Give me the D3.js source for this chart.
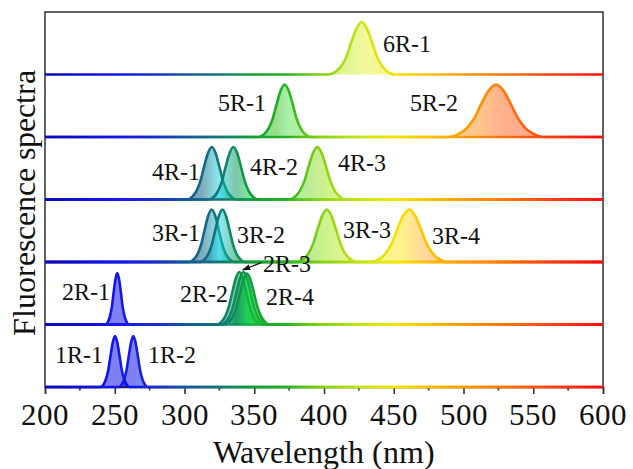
<!DOCTYPE html>
<html>
<head>
<meta charset="utf-8">
<script src="https://cdn.jsdelivr.net/npm/d3@7"></script>
<style>
  @font-face { font-family: "ChartSerif"; src: local("Liberation Serif"), local("LiberationSerif"), local("LiberationSerif-Regular"); }
  body { margin: 0; background: #fff; }
  svg text { font-family: "ChartSerif", "Liberation Serif", Times, serif; }
</style>
</head>
<body>
<script>
// panels, bottom to top
var panels = ["1R", "2R", "3R", "4R", "5R", "6R"];
var xTicks = [200, 250, 300, 350, 400, 450, 500, 550, 600];
var xMinor = [225, 275, 325, 375, 425, 475, 525, 575];

// spectra: [wavelength (nm), intensity]
var s1R_1 = [[200,0],[240.0,0],[242.2,.06],[243.8,.16],[245.4,.33],[247.0,.60],[248.6,.85],[250.2,.97],[251.8,.85],[253.4,.60],[255.0,.33],[256.6,.16],[258.2,.06],[260.4,0],[600,0]];
var s1R_2 = [[200,0],[253.1,0],[255.3,.06],[256.9,.16],[258.5,.33],[260.1,.60],[261.7,.85],[263.3,.97],[264.9,.85],[266.5,.60],[268.1,.33],[269.7,.16],[271.3,.06],[273.5,0],[600,0]];
var s2R_1 = [[200,0],[243.5,0],[245.3,.06],[246.6,.16],[247.9,.33],[249.2,.61],[250.5,.86],[251.8,.98],[253.1,.86],[254.4,.61],[255.7,.33],[257.0,.16],[258.3,.06],[260.1,0],[600,0]];
var s2R_2 = [[200,0],[323.3,0],[326.8,.06],[329.3,.16],[331.8,.34],[334.3,.62],[336.8,.88],[339.3,1],[341.8,.88],[344.3,.62],[346.8,.34],[349.3,.16],[351.8,.06],[355.3,0],[600,0]];
var s2R_3 = [[200,0],[326.3,0],[329.8,.06],[332.3,.16],[334.8,.34],[337.3,.62],[339.8,.88],[342.3,1],[344.8,.88],[347.3,.62],[349.8,.34],[352.3,.16],[354.8,.06],[358.3,0],[600,0]];
var s2R_4 = [[200,0],[328.8,0],[332.3,.06],[334.8,.16],[337.3,.33],[339.8,.60],[342.3,.85],[344.8,.97],[347.3,.85],[349.8,.60],[352.3,.33],[354.8,.16],[357.3,.06],[360.8,0],[600,0]];
var s3R_1 = [[200,0],[303.5,0],[307.0,.06],[309.5,.16],[312.0,.34],[314.5,.62],[317.0,.88],[319.5,1],[322.0,.88],[324.5,.62],[327.0,.34],[329.5,.16],[332.0,.06],[335.5,0],[600,0]];
var s3R_2 = [[200,0],[311.2,0],[314.7,.06],[317.2,.16],[319.7,.34],[322.2,.62],[324.7,.88],[327.2,1],[329.7,.88],[332.2,.62],[334.7,.34],[337.2,.16],[339.7,.06],[343.2,0],[600,0]];
var s3R_3 = [[200,0],[380.9,0],[385.5,.06],[388.8,.16],[392.1,.34],[395.4,.62],[398.7,.88],[402.0,1],[405.3,.88],[408.6,.62],[411.9,.34],[415.2,.16],[418.5,.06],[423.1,0],[600,0]];
var s3R_4 = [[200,0],[433.8,0],[439.8,.06],[444.0,.16],[448.3,.34],[452.5,.62],[456.8,.88],[461.0,1],[465.3,.88],[469.5,.62],[473.8,.34],[478.0,.16],[482.3,.06],[488.2,0],[600,0]];
var s4R_1 = [[200,0],[301.9,0],[305.8,.06],[308.5,.16],[311.3,.34],[314.0,.62],[316.8,.88],[319.5,1],[322.3,.88],[325.0,.62],[327.8,.34],[330.5,.16],[333.3,.06],[337.1,0],[600,0]];
var s4R_2 = [[200,0],[317.4,0],[321.3,.06],[324.0,.16],[326.8,.34],[329.5,.62],[332.3,.88],[335.0,1],[337.8,.88],[340.5,.62],[343.3,.34],[346.0,.16],[348.8,.06],[352.6,0],[600,0]];
var s4R_3 = [[200,0],[375.0,0],[379.5,.06],[382.6,.16],[385.8,.34],[388.9,.62],[392.1,.88],[395.2,1],[398.4,.88],[401.5,.62],[404.7,.34],[407.8,.16],[411.0,.06],[415.4,0],[600,0]];
var s5R_1 = [[200,0],[353.2,0],[357.3,.06],[360.2,.16],[363.1,.34],[366.0,.62],[368.9,.88],[371.8,1],[374.7,.88],[377.6,.62],[380.5,.34],[383.4,.16],[386.3,.06],[390.4,0],[600,0]];
var s5R_2 = [[200,0],[489.1,0],[496.6,.06],[501.9,.16],[507.3,.34],[512.6,.62],[518.0,.88],[523.3,1],[528.7,.88],[534.0,.62],[539.4,.34],[544.7,.16],[550.1,.06],[557.5,0],[600,0]];
var s6R_1 = [[200,0],[403.6,0],[408.8,.06],[412.4,.16],[416.1,.34],[419.7,.62],[423.4,.88],[427.0,1],[430.7,.88],[434.3,.62],[438.0,.34],[441.6,.16],[445.3,.06],[450.4,0],[600,0]];

var peakNames = ["1R-1","1R-2","2R-1","2R-2","2R-3","2R-4","3R-1","3R-2","3R-3","3R-4","4R-1","4R-2","4R-3","5R-1","5R-2","6R-1"];
var peakPanel = [0, 0, 1, 1, 1, 1, 2, 2, 2, 2, 3, 3, 3, 4, 4, 5];
var peakData = [s1R_1, s1R_2, s2R_1, s2R_2, s2R_3, s2R_4, s3R_1, s3R_2, s3R_3, s3R_4, s4R_1, s4R_2, s4R_3, s5R_1, s5R_2, s6R_1];

// label anchor points in data units (nm, intensity)
var labelX = [241.6, 273.8, 246.6, 331, 356.3, 358.4, 311, 337.6, 413.6, 477.4, 311, 347, 410, 358.4, 496, 442.3];
var labelY = [0.61, 0.61, 0.62, 0.58, 1.15, 0.52, 0.55, 0.51, 0.61, 0.50, 0.52, 0.62, 0.70, 0.65, 0.65, 0.58];
var labelEnd = [1, 0, 1, 1, 0, 0, 1, 0, 0, 0, 1, 0, 0, 1, 1, 0];

// arrow for 2R-3: from label to peak
var arrowFrom = [355.3, 1.18];
var arrowTo = [341.7, 1.04];

// colour along the wavelength axis
var strokeStops = [[200,"#0a0ab4"],[250,"#1414f0"],[280,"#1a2cc8"],[300,"#14589c"],[320,"#14707e"],[335,"#108c5c"],[350,"#12a034"],[372,"#22b222"],[395,"#7ccf12"],[427,"#c8e614"],[452,"#f2e400"],[475,"#fcc000"],[500,"#ff9c00"],[523,"#ff8000"],[560,"#ff4412"],[600,"#ff0c0c"]];
var fillStops = [[200,"#0000ed"],[262,"#0000ed"],[290,"#0030b0"],[312,"#00526f"],[325,"#18d5e4"],[337,"#008c52"],[345,"#00c83c"],[365,"#35b818"],[375,"#52e452"],[390,"#7ed535"],[400,"#9be418"],[430,"#e4f235"],[455,"#ffe418"],[470,"#ffb835"],[510,"#ff8c18"],[530,"#ff6118"],[600,"#ff3010"]];

var FONT = "ChartSerif, 'Liberation Serif', Times, serif";
var W = 633, H = 469;
var margin = {top: 12, right: 30, bottom: 82, left: 45};
var width = W - margin.left - margin.right,
    height = H - margin.top - margin.bottom;
var panelH = height / panels.length;

var svg = d3.select("body").append("svg")
    .attr("width", W)
    .attr("height", H);

var x = d3.scaleLinear().domain([200, 600]).range([margin.left, margin.left + width]);

function yPanel(i) {
  var base = margin.top + height - i * panelH;
  return d3.scaleLinear().domain([0, 1.19]).range([base, base - panelH]);
}

// all text goes through here
function label(parent, str, size) {
  return parent.append("text")
      .attr("class", "lbl")
      .style("font-family", FONT)
      .style("font-size", size + "px")
      .attr("fill", "#111")
      .text(str);
}

var defs = svg.append("defs");
function makeGrad(id, stops) {
  var g = defs.append("linearGradient")
      .attr("id", id)
      .attr("gradientUnits", "userSpaceOnUse")
      .attr("x1", x(200)).attr("x2", x(600))
      .attr("y1", 0).attr("y2", 0);
  g.selectAll("stop").data(stops).enter().append("stop")
      .attr("offset", function(d) { return (d[0] - 200) / 400; })
      .attr("stop-color", function(d) { return d[1]; });
}
makeGrad("lineGrad", strokeStops);
makeGrad("fillGrad", fillStops);

defs.append("marker")
    .attr("id", "arrow")
    .attr("viewBox", "0 0 10 10")
    .attr("refX", 9).attr("refY", 5)
    .attr("markerWidth", 7).attr("markerHeight", 7)
    .attr("orient", "auto")
  .append("path")
    .attr("d", "M0,1.5 L10,5 L0,8.5 Z")
    .attr("fill", "#111");

// frame
svg.append("rect")
    .attr("x", margin.left).attr("y", margin.top)
    .attr("width", width).attr("height", height)
    .attr("fill", "none")
    .attr("stroke", "#222")
    .attr("stroke-width", 1.4);

// x axis, ticks only; labels drawn by hand below
var xAxis = svg.append("g")
    .attr("transform", "translate(0," + (margin.top + height) + ")")
    .call(d3.axisBottom(x).tickValues(xTicks).tickSize(7).tickFormat(""));
xAxis.select(".domain").attr("stroke", "#222").attr("stroke-width", 1.4);
xAxis.selectAll(".tick line").attr("stroke", "#333").attr("stroke-width", 1.6);
xAxis.selectAll(".minor").data(xMinor).enter().append("line")
    .attr("class", "minor")
    .attr("x1", function(d) { return x(d); })
    .attr("x2", function(d) { return x(d); })
    .attr("y1", 0).attr("y2", 3.5)
    .attr("stroke", "#333").attr("stroke-width", 1.6);

xTicks.forEach(function(t) {
  label(svg, String(t), 31)
      .attr("x", x(t))
      .attr("y", margin.top + height + 38)
      .attr("text-anchor", "middle");
});

// spectra
var g = svg.append("g");
peakData.forEach(function(pts, k) {
  var y = yPanel(peakPanel[k]);
  var area = d3.area()
      .x(function(d) { return x(d[0]); })
      .y0(y(0))
      .y1(function(d) { return y(d[1]); })
      .curve(d3.curveMonotoneX);
  var line = d3.line()
      .x(function(d) { return x(d[0]); })
      .y(function(d) { return y(d[1]); })
      .curve(d3.curveMonotoneX);
  g.append("path")
      .datum(pts)
      .attr("d", area)
      .attr("fill", "url(#fillGrad)")
      .attr("fill-opacity", 0.5);
  g.append("path")
      .datum(pts)
      .attr("d", line)
      .attr("fill", "none")
      .attr("stroke", "url(#lineGrad)")
      .attr("stroke-width", 2.6)
      .attr("stroke-linejoin", "round");
});

// peak labels
peakNames.forEach(function(name, k) {
  var y = yPanel(peakPanel[k]);
  label(svg, name, 23.5)
      .attr("x", x(labelX[k]))
      .attr("y", y(labelY[k]))
      .attr("dy", "0.35em")
      .attr("text-anchor", labelEnd[k] ? "end" : "start");
});

// arrow 2R-3
var y2 = yPanel(1);
svg.append("line")
    .attr("x1", x(arrowFrom[0])).attr("y1", y2(arrowFrom[1]))
    .attr("x2", x(arrowTo[0])).attr("y2", y2(arrowTo[1]))
    .attr("stroke", "#111")
    .attr("stroke-width", 1.2)
    .attr("marker-end", "url(#arrow)");

// axis titles
label(svg, "Wavelength (nm)", 32)
    .attr("x", margin.left + width / 2)
    .attr("y", 463)
    .attr("text-anchor", "middle");

label(svg, "Fluorescence spectra", 32)
    .attr("transform", "translate(35," + (margin.top + height / 2 + 3) + ") rotate(-90)")
    .attr("text-anchor", "middle");

// re-apply the font once the face is loaded, in case it came in late
if (document.fonts && document.fonts.load) {
  document.fonts.load("32px ChartSerif").then(function() {
    svg.selectAll("text.lbl").style("font-family", FONT);
  });
}
</script>
</body>
</html>
